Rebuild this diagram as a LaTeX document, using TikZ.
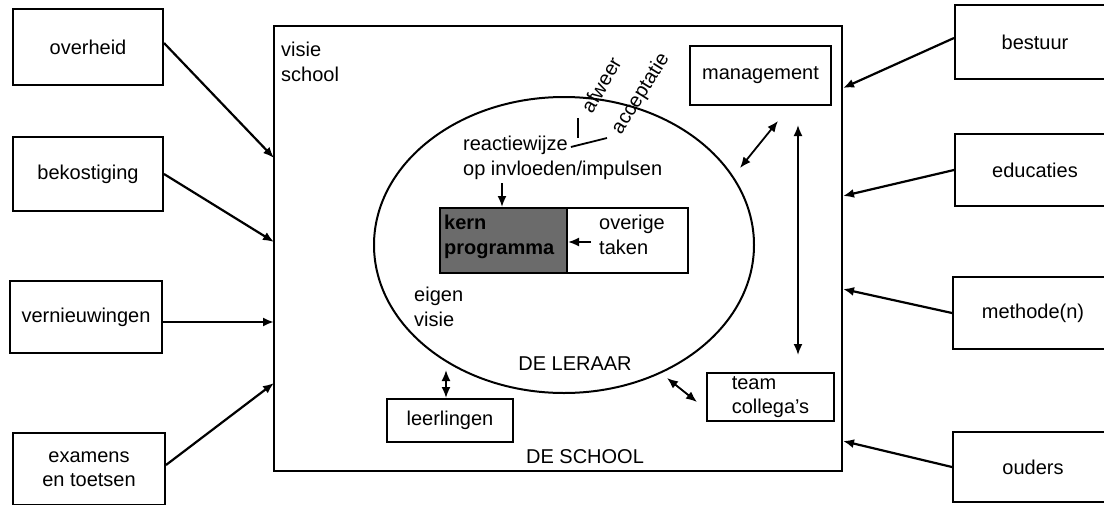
\documentclass[tikz,border=0pt]{standalone}
\usepackage{fontspec}
\setmainfont{Liberation Sans}
\usetikzlibrary{arrows.meta,shapes.geometric}
\newcommand\dflbl{\fontsize{20}{24.5}\selectfont}
\begin{document}
\begin{tikzpicture}[x=1pt,y=-1pt,
  box/.style={draw,line width=2pt,inner sep=0pt,align=center,font=\dflbl},
  txt/.style={inner sep=0pt,font=\dflbl,align=left},
  arr/.style={line width=2.2pt,-{Latex[length=11pt,width=9pt]}},
  darr/.style={line width=1.8pt,{Latex[length=11pt,width=9pt]}-{Latex[length=11pt,width=9pt]}},
  thin/.style={line width=1.8pt}]
\useasboundingbox (0,0) rectangle (1104,504);
% school
\node[box,minimum width=568pt,minimum height=445pt] (school) at (558,248.5) {};
\node[txt,anchor=north west] (visie) at (281,42) {visie\\school};
\node[txt] (deschool) at (585,457) {DE SCHOOL};
% left boxes
\node[box,minimum width=150pt,minimum height=76pt] (overheid) at (88,47) {overheid};
\node[box,minimum width=150pt,minimum height=74pt] (bekost) at (88,174) {bekostiging};
\node[box,minimum width=152pt,minimum height=72pt] (vernieuw) at (86,317) {vernieuwingen};
\node[box,minimum width=152pt,minimum height=72pt] (examens) at (89,469) {examens\\en toetsen};
% right boxes
\node[box,minimum width=160pt,minimum height=74pt] (bestuur) at (1035,42) {bestuur};
\node[box,minimum width=160pt,minimum height=72pt] (educ) at (1035,170) {educaties};
\node[box,minimum width=160pt,minimum height=72pt] (methode) at (1033,313) {methode(n)};
\node[box,minimum width=160pt,minimum height=70pt] (ouders) at (1033,467) {ouders};
% entry points on school border
\coordinate (l1) at (274,158);
\coordinate (l2) at (274,242);
\coordinate (l3) at (274,322);
\coordinate (l4) at (274,383);
\coordinate (r1) at (843,88);
\coordinate (r2) at (843,196);
\coordinate (r3) at (843,289);
\coordinate (r4) at (843,441);
\draw[arr] (overheid.east) ++(0,-4) -- (l1);
\draw[arr] (bekost.east) -- (l2);
\draw[arr] (vernieuw.east) ++(0,5) -- (l3);
\draw[arr] (examens.east) ++(0,-4) -- (l4);
\draw[arr] (bestuur.west) ++(0,-4) -- (r1);
\draw[arr] (educ.west) -- (r2);
\draw[arr] (methode.west) -- (r3);
\draw[arr] (ouders.west) -- (r4);
% teacher ellipse
\node[draw,ellipse,line width=2pt,minimum width=380pt,minimum height=296pt] (leraar) at (564,245) {};
\node[txt] (deleraar) at (575,364) {DE LERAAR};
\node[txt,anchor=west] (reactie) at (463,145) {reactiewijze};
\node[txt,anchor=west] (invloed) at (463,170) {op invloeden/impulsen};
\node[txt,rotate=60] (afweer) at (601,85) {afweer};
\node[txt,rotate=58] (accept) at (641,94) {acceptatie};
\draw[thin] (578,118) -- (578,138);
\draw[thin] (reactie.east) ++(3,2) -- (607,138);
\node[txt,anchor=north west] (eigen) at (414,287) {eigen\\visie};
% kern programma
\node[draw,line width=2pt,fill=black!58,minimum width=127pt,minimum height=65pt,inner sep=0pt] (kern) at (503.5,240.5) {};
\node[txt,anchor=north west] (kerntxt) at (444,215) {\textbf{kern}\\\textbf{programma}};
\node[draw,line width=2pt,minimum width=121pt,minimum height=65pt,inner sep=0pt] (overige) at (627.5,240.5) {};
\node[txt,anchor=north west] (overtxt) at (599,215) {overige\\taken};
\coordinate (ov) at (591,242);
\draw[arr,line width=1.8pt] (ov) -- (kern.east |- ov);
\coordinate (rk) at (502,183);
\draw[arr,line width=1.8pt] (rk) -- (kern.north -| rk);
% inner boxes
\node[box,minimum width=141pt,minimum height=59pt] (management) at (760.5,75.5) {management};
\node[box,minimum width=127pt,minimum height=48pt,align=left] (team) at (770.5,397) {team\\collega's};
\node[box,minimum width=126pt,minimum height=43pt] (leerl) at (450,420.5) {leerlingen};
% double arrows
\coordinate (m1) at (740,168);
\coordinate (m2) at (778,121);
\draw[darr] (m1) -- (m2);
\coordinate (v1) at (798,125);
\coordinate (v2) at (798,355);
\draw[darr] (v1) -- (v2);
\coordinate (t1) at (667,378);
\coordinate (t2) at (697,402);
\draw[darr] (t1) -- (t2);
\coordinate (le1) at (446,370);
\draw[darr] (le1) -- (leerl.north -| le1);
\end{tikzpicture}
\end{document}
